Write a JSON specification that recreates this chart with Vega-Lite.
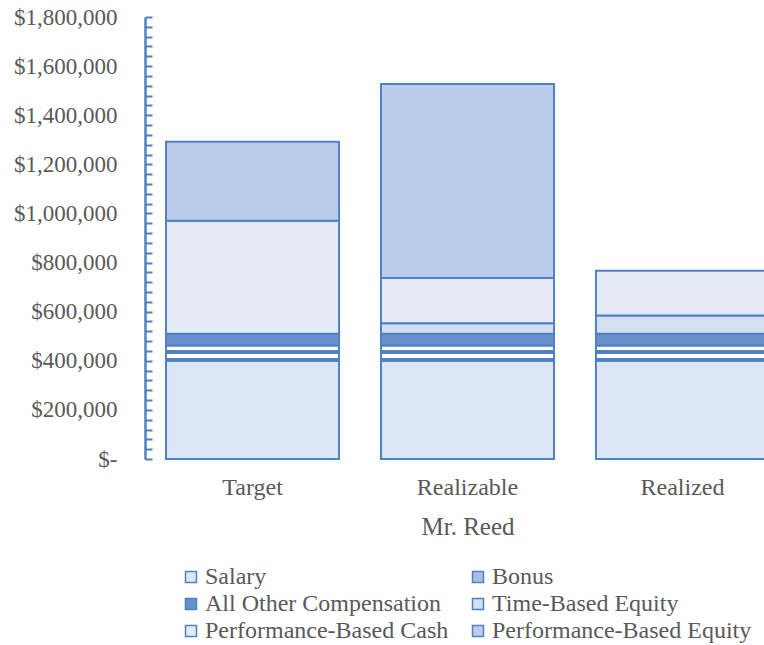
{
  "$schema": "https://vega.github.io/schema/vega-lite/v6.json",
  "width": 619,
  "height": 442,
  "autosize": {"type": "none"},
  "padding": {"left": 145, "top": 17, "right": 0, "bottom": 186},
  "background": "white",
  "config": {"view": {"stroke": null}, "font": "Liberation Serif"},
  "data": {
    "values": [
      {"period": "Target", "component": "Salary", "amount": 400000},
      {"period": "Target", "component": "Bonus", "amount": 62500},
      {"period": "Target", "component": "All Other Compensation", "amount": 47500},
      {"period": "Target", "component": "Performance-Based Cash", "amount": 460000},
      {"period": "Target", "component": "Performance-Based Equity", "amount": 322000},
      {"period": "Realizable", "component": "Salary", "amount": 400000},
      {"period": "Realizable", "component": "Bonus", "amount": 62500},
      {"period": "Realizable", "component": "All Other Compensation", "amount": 47500},
      {"period": "Realizable", "component": "Time-Based Equity", "amount": 43000},
      {"period": "Realizable", "component": "Performance-Based Cash", "amount": 184000},
      {"period": "Realizable", "component": "Performance-Based Equity", "amount": 790000},
      {"period": "Realized", "component": "Salary", "amount": 400000},
      {"period": "Realized", "component": "Bonus", "amount": 62500},
      {"period": "Realized", "component": "All Other Compensation", "amount": 47500},
      {"period": "Realized", "component": "Time-Based Equity", "amount": 74000},
      {"period": "Realized", "component": "Performance-Based Cash", "amount": 183000}
    ]
  },
  "transform": [
    {"calculate": "indexof(['Salary', 'Bonus', 'All Other Compensation', 'Time-Based Equity', 'Performance-Based Cash', 'Performance-Based Equity'], datum.component)", "as": "stackOrder"}
  ],
  "mark": {"type": "bar", "stroke": "#4F81C4", "strokeWidth": 2, "clip": false},
  "encoding": {
    "x": {
      "field": "period",
      "type": "nominal",
      "sort": ["Target", "Realizable", "Realized"],
      "scale": {"range": [0, 645], "paddingInner": 0.195, "paddingOuter": 0.0977},
      "axis": {
        "title": "Mr. Reed",
        "labelAngle": 0,
        "domain": false,
        "ticks": false,
        "labelFont": "Liberation Serif",
        "labelFontSize": 24,
        "labelColor": "#595959",
        "labelPadding": 16,
        "titleFont": "Liberation Serif",
        "titleFontSize": 25,
        "titleFontWeight": "normal",
        "titleColor": "#595959",
        "titlePadding": 15
      }
    },
    "y": {
      "field": "amount",
      "type": "quantitative",
      "stack": "zero",
      "scale": {"domain": [0, 1800000], "nice": false},
      "axis": {
        "title": null,
        "values": [0, 40000, 80000, 120000, 160000, 200000, 240000, 280000, 320000, 360000, 400000, 440000, 480000, 520000, 560000, 600000, 640000, 680000, 720000, 760000, 800000, 840000, 880000, 920000, 960000, 1000000, 1040000, 1080000, 1120000, 1160000, 1200000, 1240000, 1280000, 1320000, 1360000, 1400000, 1440000, 1480000, 1520000, 1560000, 1600000, 1640000, 1680000, 1720000, 1760000, 1800000],
        "labelExpr": "datum.value % 200000 != 0 ? '' : (datum.value == 0 ? '$-' : '$' + format(datum.value, ','))",
        "grid": false,
        "domainColor": "#4F81C4",
        "domainWidth": 2.5,
        "tickColor": "#4F81C4",
        "tickWidth": 2,
        "tickSize": -7,
        "labelPadding": 35,
        "labelFont": "Liberation Serif",
        "labelFontSize": 23,
        "labelColor": "#595959"
      }
    },
    "order": {"field": "stackOrder", "type": "quantitative"},
    "fill": {
      "condition": {
        "test": "datum.component === 'Bonus'",
        "value": {"gradient": "linear", "x1": 0, "y1": 0, "x2": 0, "y2": 1, "stops": [
          {"offset": 0, "color": "#ffffff"}, {"offset": 0.28, "color": "#ffffff"},
          {"offset": 0.28, "color": "#4F81C4"}, {"offset": 0.56, "color": "#4F81C4"},
          {"offset": 0.56, "color": "#ffffff"}, {"offset": 0.82, "color": "#ffffff"},
          {"offset": 0.82, "color": "#4F81C4"}, {"offset": 1, "color": "#4F81C4"}]}
      },
      "field": "component",
      "type": "nominal",
      "sort": ["Salary", "Bonus", "All Other Compensation", "Time-Based Equity", "Performance-Based Cash", "Performance-Based Equity"],
      "scale": {
        "domain": ["Salary", "Bonus", "All Other Compensation", "Time-Based Equity", "Performance-Based Cash", "Performance-Based Equity"],
        "range": ["#DCE5F3", "#A7BFE4", "#6790CC", "#D3DFF2", "#E4EBF7", "#BCCDEB"]
      },
      "legend": {
        "orient": "none",
        "direction": "horizontal",
        "legendX": 34,
        "legendY": 548,
        "columns": 2,
        "title": null,
        "padding": 0,
        "symbolType": "square",
        "symbolSize": 121,
        "symbolStrokeColor": "#4F81C4",
        "symbolStrokeWidth": 1.5,
        "labelFont": "Liberation Serif",
        "labelFontSize": 24,
        "labelColor": "#595959",
        "labelOffset": 2,
        "labelLimit": 400,
        "rowPadding": 3,
        "columnPadding": 17
      }
    }
  }
}
